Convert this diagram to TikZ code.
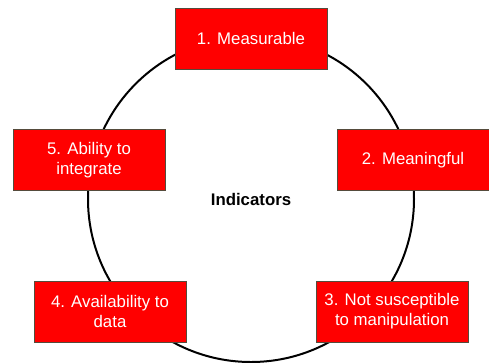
\documentclass[tikz,border=0pt]{standalone}
\usepackage{fontspec}
\setmainfont{Liberation Sans}
\usetikzlibrary{positioning}

\definecolor{boxred}{RGB}{255,0,0}
\definecolor{boxline}{RGB}{85,75,60}

\begin{document}
\begin{tikzpicture}[x=0.75pt, y=-0.75pt,
	font=\fontsize{12.6}{15.2}\selectfont,
	hub/.style={circle, draw, line width=1.5pt, minimum size=244.5pt, inner sep=0pt},
	crit/.style={rectangle, draw=boxline, line width=0.5pt, fill=boxred, text=white,
		minimum width=114pt, minimum height=45.75pt, align=center, inner sep=2pt}]
	\useasboundingbox (0,0) rectangle (489,362);

	\node (ind) [hub] at (251,199) {\textbf{Indicators}};

	\node (m1) [crit] at (251,38.5) {1. Measurable};
	\node (m2) [crit] at (413,160) {2. Meaningful};
	\node (m3) [crit] at (392,311.5) {3. Not susceptible\\to manipulation};
	\node (m4) [crit] at (110,311.5) {4. Availability to\\data};
	\node (m5) [crit] at (89,160) {5. Ability to\\integrate};

\end{tikzpicture}
\end{document}
